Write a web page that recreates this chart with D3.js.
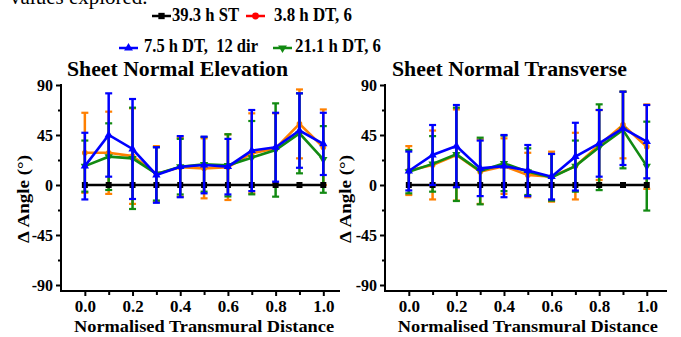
<!DOCTYPE html>
<html><head><meta charset="utf-8">
<script src="https://cdn.jsdelivr.net/npm/d3@7"></script>
<style>
body{margin:0;background:#fff;}
svg{display:block;}
text{font-family:"Liberation Serif","Times New Roman",serif;font-weight:bold;fill:#000;}
</style>
</head><body><svg id="c" width="681" height="337"></svg>
<script>
// ---------- DATA ----------
const xValues = [0, 0.1, 0.2, 0.3, 0.4, 0.5, 0.6, 0.7, 0.8, 0.9, 1.0];
const xTickMajor = [0, 0.2, 0.4, 0.6, 0.8, 1.0];
const xTickMinor = [0.1, 0.3, 0.5, 0.7, 0.9];
const yTickMajor = [-90, -45, 0, 45, 90];
const yTickMinor = [-67.5, -22.5, 22.5, 67.5];
const seriesNames = ["39.3 h ST", "3.8 h DT, 6", "7.5 h DT,  12 dir", "21.1 h DT, 6"];
const panelTitles = ["Sheet Normal Elevation", "Sheet Normal Transverse"];

// Sheet Normal Elevation
const elevST_mean   = [0,0,0,0,0,0,0,0,0,0,0];
const elevST_sd     = [0,0,0,0,0,0,0,0,0,0,0];
const elevDT6_mean  = [29, 29, 26, 10, 16, 15, 16, 28.5, 33, 55, 34];
const elevDT6_sd    = [36, 37, 43, 25, 26.5, 27, 29.5, 36, 31.5, 31, 34];
const elevDT12_mean = [17, 45, 32.4, 9, 16.5, 18, 16.5, 31, 34, 49, 37];
const elevDT12_sd   = [30, 37.5, 45, 25, 27.5, 25.5, 25, 36.5, 31, 33.5, 28];
const elevDT21_mean = [17, 25.5, 24, 10, 16.5, 18.6, 17.7, 24.6, 31.5, 46.5, 23];
const elevDT21_sd   = [23, 30, 45.6, 24, 25, 24.6, 28, 33, 42, 36, 30];

// Sheet Normal Transverse
const tranST_mean   = [0,0,0,0,0,0,0,0,0,0,0];
const tranST_sd     = [0,0,0,0,0,0,0,0,0,0,0];
const tranDT6_mean  = [13, 18, 27, 12, 17, 9, 7.5, 17, 36, 54, 34.5];
const tranDT6_sd    = [22, 31, 41, 29, 25, 20, 22.5, 30, 31.5, 30, 38];
const tranDT12_mean = [12.6, 27, 35, 15, 17, 13, 7.5, 25.5, 37.5, 51, 39];
const tranDT12_sd   = [17.5, 27, 37, 25, 28, 23, 20.5, 30.5, 30, 33, 33];
const tranDT21_mean = [12, 19, 27.6, 12.6, 19.5, 12, 6.9, 17, 34, 49.5, 17];
const tranDT21_sd   = [19.5, 25, 42, 30, 25, 21, 21, 23, 38.6, 34.5, 40];

// ---------- STYLE ----------
const colST = "#000000", colDT6 = "#ff8000", colDT6leg = "#ff0000", colDT12 = "#0000ff", colDT21 = "#128a12";

const svg = d3.select("#c");

// cut-off caption text at top (as in the reference)
svg.append("text").attr("x", 10).attr("y", 4)
  .style("font-weight", "normal").style("font-size", "21px").text("values explored.");

function makeSeries(means, sds, color, symbol, size) {
  return { means, sds, color, symbol, size };
}

const panels = [
  { title: panelTitles[0], x0: 61, x1: 340, xMax: 1.07, titleX: 67, titleW: 221, yLabX: 23,
    series: [
      makeSeries(elevDT6_mean, elevDT6_sd, colDT6, d3.symbolCircle, 26),
      makeSeries(elevDT21_mean, elevDT21_sd, colDT21, "down", 30),
      makeSeries(elevST_mean, elevST_sd, colST, d3.symbolSquare, 36),
      makeSeries(elevDT12_mean, elevDT12_sd, colDT12, d3.symbolTriangle, 30)
    ]},
  { title: panelTitles[1], x0: 385, x1: 667, xMax: 1.085, titleX: 392, titleW: 235, yLabX: 345,
    series: [
      makeSeries(tranDT6_mean, tranDT6_sd, colDT6, d3.symbolCircle, 26),
      makeSeries(tranDT21_mean, tranDT21_sd, colDT21, "down", 30),
      makeSeries(tranST_mean, tranST_sd, colST, d3.symbolSquare, 36),
      makeSeries(tranDT12_mean, tranDT12_sd, colDT12, d3.symbolTriangle, 30)
    ]}
];

const axisY = 291;

function symbolPath(sym, size) {
  if (sym === "down") return d3.symbol(d3.symbolTriangle, size)();
  return d3.symbol(sym, size)();
}

panels.forEach(p => {
  const x = d3.scaleLinear().domain([-0.1, p.xMax]).range([p.x0, p.x1]);
  const y = d3.scaleLinear().domain([-90, 90]).range([285, 85]);
  const g = svg.append("g");

  // title
  g.append("text").attr("x", p.titleX).attr("y", 76)
    .attr("textLength", p.titleW).attr("lengthAdjust", "spacingAndGlyphs")
    .style("font-size", "20px").text(p.title);

  // x axis major
  const gx = g.append("g").attr("transform", `translate(0,${axisY})`)
    .call(d3.axisBottom(x).tickValues(xTickMajor).tickSize(5).tickPadding(4).tickFormat(d3.format(".1f")));
  gx.select(".domain").remove();
  gx.selectAll("line").attr("stroke", "#000").attr("stroke-width", 2);
  gx.selectAll("text").style("font-size", "17px").attr("fill", "#000");
  const gxm = g.append("g").attr("transform", `translate(0,${axisY})`)
    .call(d3.axisBottom(x).tickValues(xTickMinor).tickSize(4).tickFormat(""));
  gxm.select(".domain").remove();
  gxm.selectAll("line").attr("stroke", "#000").attr("stroke-width", 2);
  g.append("line").attr("x1", p.x0 - 1).attr("x2", p.x1).attr("y1", axisY).attr("y2", axisY)
    .attr("stroke", "#000").attr("stroke-width", 2);

  // y axis
  const gy = g.append("g").attr("transform", `translate(${p.x0},0)`)
    .call(d3.axisLeft(y).tickValues(yTickMajor).tickSize(5).tickPadding(3).tickFormat(d => String(d)));
  gy.select(".domain").remove();
  gy.selectAll("line").attr("stroke", "#000").attr("stroke-width", 2);
  gy.selectAll("text").style("font-size", "16px").attr("fill", "#000");
  const gym = g.append("g").attr("transform", `translate(${p.x0},0)`)
    .call(d3.axisLeft(y).tickValues(yTickMinor).tickSize(3).tickFormat(""));
  gym.select(".domain").remove();
  gym.selectAll("line").attr("stroke", "#000").attr("stroke-width", 2);
  g.append("line").attr("x1", p.x0).attr("x2", p.x0).attr("y1", y(90) - 1).attr("y2", axisY + 1)
    .attr("stroke", "#000").attr("stroke-width", 2);

  // axis titles
  g.append("text").attr("x", (x(0) + x(1)) / 2).attr("y", 332).attr("text-anchor", "middle")
    .attr("textLength", 260).attr("lengthAdjust", "spacingAndGlyphs")
    .style("font-size", "17px").text("Normalised Transmural Distance");
  g.append("text").attr("transform", `translate(${p.yLabX + 6},199) rotate(-90)`)
    .attr("text-anchor", "middle").attr("textLength", 88).attr("lengthAdjust", "spacingAndGlyphs")
    .style("font-size", "17px").text("Δ Angle (°)");

  // series
  p.series.forEach(s => {
    const pts = xValues.map((xv, i) => ({ x: xv, m: s.means[i], sd: s.sds[i] }));
    const sg = g.append("g");
    pts.filter(d => d.sd > 0).forEach(d => {
      sg.append("line").attr("x1", x(d.x)).attr("x2", x(d.x)).attr("y1", y(d.m - d.sd)).attr("y2", y(d.m + d.sd))
        .attr("stroke", s.color).attr("stroke-width", 2.5);
      [d.m - d.sd, d.m + d.sd].forEach(v => {
        sg.append("line").attr("x1", x(d.x) - 3.5).attr("x2", x(d.x) + 3.5).attr("y1", y(v)).attr("y2", y(v))
          .attr("stroke", s.color).attr("stroke-width", 2.2);
      });
    });
    sg.append("path").datum(pts)
      .attr("d", d3.line().x(d => x(d.x)).y(d => y(d.m)))
      .attr("fill", "none").attr("stroke", s.color).attr("stroke-width", 2.6);
    sg.selectAll(".mk").data(pts).join("path")
      .attr("transform", d => `translate(${x(d.x)},${y(d.m)})` + (s.symbol === "down" ? " rotate(180)" : ""))
      .attr("d", symbolPath(s.symbol, s.size)).attr("fill", s.color);
  });
});

// ---------- LEGEND ----------
const legendItems = [
  { name: seriesNames[0], color: colST, sym: d3.symbolSquare, size: 40, lx: 152, ly: 16, tx: 172, ty: 20.5, tw: 67 },
  { name: seriesNames[1], color: colDT6leg, sym: d3.symbolCircle, size: 36, lx: 246, ly: 16, tx: 274, ty: 20.5, tw: 78 },
  { name: seriesNames[2], color: colDT12, sym: d3.symbolTriangle, size: 34, lx: 119, ly: 48, tx: 144, ty: 51.5, tw: 114 },
  { name: seriesNames[3], color: colDT21, sym: "down", size: 34, lx: 273, ly: 48, tx: 295, ty: 51.5, tw: 86 }
];
const lg = svg.append("g");
legendItems.forEach(it => {
  lg.append("line").attr("x1", it.lx).attr("x2", it.lx + 19).attr("y1", it.ly).attr("y2", it.ly)
    .attr("stroke", it.color).attr("stroke-width", 2.5);
  lg.append("path").attr("transform", `translate(${it.lx + 9.5},${it.ly})` + (it.sym === "down" ? " rotate(180)" : ""))
    .attr("d", symbolPath(it.sym, it.size)).attr("fill", it.color);
  lg.append("text").attr("x", it.tx).attr("y", it.ty).style("white-space", "pre")
    .attr("textLength", it.tw).attr("lengthAdjust", "spacingAndGlyphs")
    .style("font-size", "19px").text(it.name);
});
</script>
</body></html>
